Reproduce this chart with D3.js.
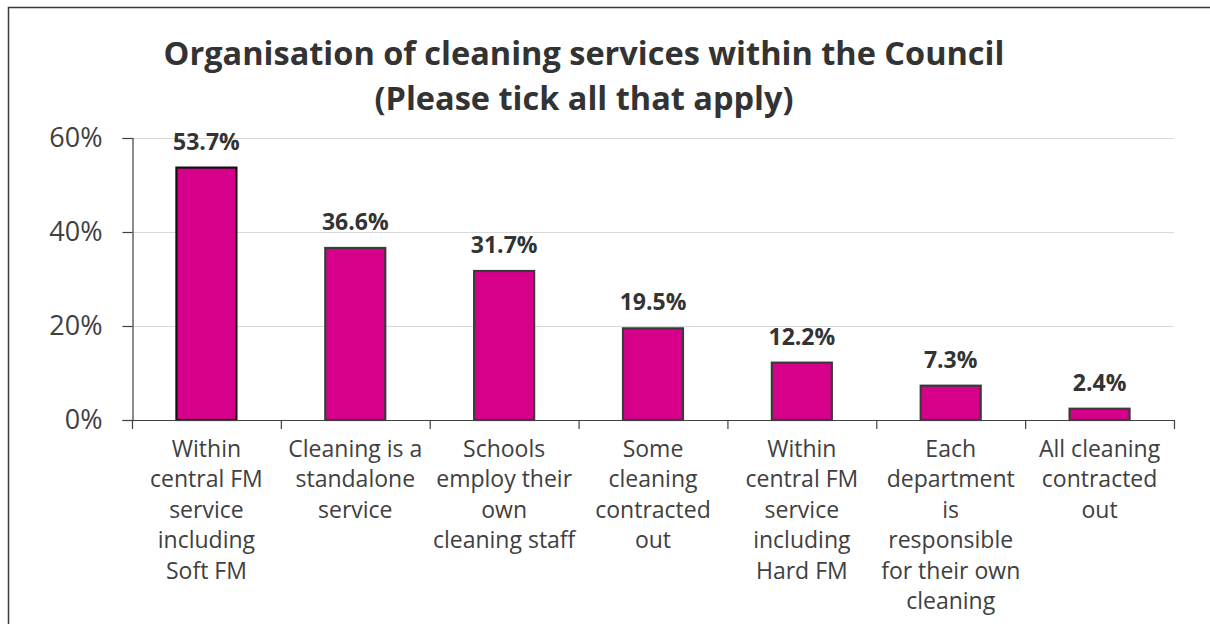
<!DOCTYPE html>
<html>
<head>
<meta charset="utf-8">
<script src="https://cdn.jsdelivr.net/npm/d3@7"></script>
<style>
  html, body { margin: 0; padding: 0; background: #fff; }
  svg { display: block; }
  text { font-family: "Open Sans", "Noto Sans", sans-serif; }
</style>
</head>
<body>
<svg id="chart" width="1210" height="624"></svg>
<script>
// Survey responses: how cleaning services are organised
const categories = [
  ["Within", "central FM", "service", "including", "Soft FM"],
  ["Cleaning is a", "standalone", "service"],
  ["Schools", "employ their", "own", "cleaning staff"],
  ["Some", "cleaning", "contracted", "out"],
  ["Within", "central FM", "service", "including", "Hard FM"],
  ["Each", "department", "is", "responsible", "for their own", "cleaning"],
  ["All cleaning", "contracted", "out"]
];
const values = [53.7, 36.6, 31.7, 19.5, 12.2, 7.3, 2.4];
const yTicks = [0, 20, 40, 60];
const titleLines = ["Organisation of cleaning services within the Council", "(Please tick all that apply)"];

const svg = d3.select("#chart");

// Frame around the chart area (runs off the right and bottom edges)
svg.append("rect")
  .attr("x", 8.5).attr("y", 7.5)
  .attr("width", 1400).attr("height", 800)
  .attr("fill", "none").attr("stroke", "#3a3a3a").attr("stroke-width", 1.5);

const plot = { left: 132, right: 1174, top: 138, bottom: 420 };

const x = d3.scaleBand()
  .domain(d3.range(categories.length))
  .range([plot.left, plot.right])
  .paddingInner(0.597)
  .paddingOuter(0.2985);

const y = d3.scaleLinear().domain([0, 60]).range([plot.bottom, plot.top]);

// Horizontal gridlines
svg.append("g")
  .selectAll("line")
  .data(yTicks.filter(d => d > 0))
  .join("line")
  .attr("x1", plot.left).attr("x2", plot.right)
  .attr("y1", d => Math.round(y(d)) + 0.5).attr("y2", d => Math.round(y(d)) + 0.5)
  .attr("stroke", "#d9d9d9").attr("stroke-width", 1.2);

// Y axis
const yAxis = svg.append("g")
  .attr("transform", `translate(${plot.left + 0.5},0)`)
  .call(d3.axisLeft(y).tickValues(yTicks).tickSize(10).tickPadding(20).tickFormat(d => d + "%"));
yAxis.select(".domain").attr("stroke", "#404040").attr("stroke-width", 1.2);
yAxis.selectAll(".tick line").attr("stroke", "#404040").attr("stroke-width", 1.2);
yAxis.selectAll(".tick text")
  .attr("fill", "#404040")
  .style("font-size", "27px")
  .style("font-family", '"Open Sans", sans-serif');

// Bars
svg.append("g")
  .selectAll("rect")
  .data(values)
  .join("rect")
  .attr("x", (d, i) => x(i))
  .attr("y", d => y(d))
  .attr("width", x.bandwidth())
  .attr("height", d => plot.bottom - y(d))
  .attr("fill", "#d6008b")
  .attr("stroke", (d, i) => i === 0 ? "#111" : "#3a3a3a")
  .attr("stroke-width", 2.2);

// X axis with boundary ticks between categories
const xAxisG = svg.append("g");
xAxisG.append("line")
  .attr("x1", plot.left).attr("x2", plot.right)
  .attr("y1", plot.bottom + 0.5).attr("y2", plot.bottom + 0.5)
  .attr("stroke", "#404040").attr("stroke-width", 1.2);
const step = x.step();
xAxisG.selectAll("line.tick")
  .data(d3.range(categories.length + 1))
  .join("line")
  .attr("class", "tick")
  .attr("x1", i => plot.left + i * step + 0.5).attr("x2", i => plot.left + i * step + 0.5)
  .attr("y1", plot.bottom).attr("y2", plot.bottom + 9)
  .attr("stroke", "#404040").attr("stroke-width", 1.2);

// Value labels above bars
svg.append("g")
  .selectAll("text")
  .data(values)
  .join("text")
  .attr("x", (d, i) => x(i) + x.bandwidth() / 2)
  .attr("y", d => y(d) - 18)
  .attr("text-anchor", "middle")
  .attr("fill", "#333")
  .style("font-size", "23px")
  .style("font-weight", "700")
  .text(d => d.toFixed(1) + "%");

// Category labels, one line per tspan
const catG = svg.append("g");
categories.forEach((lines, i) => {
  const t = catG.append("text")
    .attr("text-anchor", "middle")
    .attr("fill", "#404040")
    .style("font-size", "23px");
  lines.forEach((ln, j) => {
    t.append("tspan")
      .attr("x", x(i) + x.bandwidth() / 2)
      .attr("y", 457 + j * 30.4)
      .text(ln);
  });
});

// Title
const title = svg.append("text")
  .attr("text-anchor", "middle")
  .attr("fill", "#333")
  .style("font-size", "32.5px")
  .style("font-weight", "700");
titleLines.forEach((ln, j) => {
  title.append("tspan").attr("x", 584).attr("y", 65 + j * 45).text(ln);
});
</script>
</body>
</html>
